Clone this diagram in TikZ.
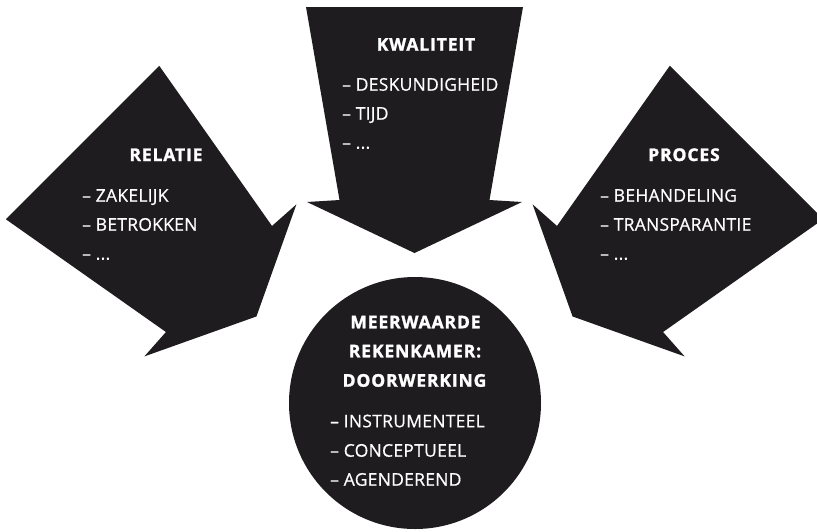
\documentclass[tikz,border=0pt]{standalone}
\usepackage{fontspec}
\newfontfamily\itemfont[LetterSpace=1.5,FakeBold=0.6]{Open Sans}
\newfontfamily\headfont[LetterSpace=5,BoldFeatures={FakeBold=1.5}]{Open Sans}
\definecolor{ink}{RGB}{30,28,31}
\begin{document}
\begin{tikzpicture}[x=1pt,y=-1pt,
  arrowshape/.style={fill=ink,draw=none},
  head/.style={text=white,inner sep=0pt,anchor=base,font=\headfont\bfseries\fontsize{17.5}{20}\selectfont},
  item/.style={text=white,inner sep=0pt,anchor=base west,font=\itemfont\fontsize{17.5}{20}\selectfont}]
\useasboundingbox (0,0) rectangle (817,531);
% arrow shape in local coordinates (back edge at y=0, pointing to +y)
\def\arrowpath{(-108.5,0) -- (108.5,0) -- (75,193) -- (107.5,195) -- (0,246) -- (-107.5,195) -- (-75,193) -- cycle}
\fill[arrowshape,shift={(414.5,7)}] \arrowpath;
\fill[arrowshape,shift={(82.5,142.5)},rotate=45] \arrowpath;
\fill[arrowshape,shift={(746.5,142.5)},rotate=-45] \arrowpath;
\fill[ink] (415,403) circle (126);
% top arrow
\node[head] (kwal) at (426,50.7) {KWALITEIT};
\node[item] (k1) at (342,90.7) {\textendash\ DESKUNDIGHEID};
\node[item] (k2) at (342,119.7) {\textendash\ TIJD};
\node[item] (k3) at (342,148.7) {\textendash\ ...};
% left arrow
\node[head] (rel) at (166,161) {RELATIE};
\node[item] (r1) at (82,201.7) {\textendash\ ZAKELIJK};
\node[item] (r2) at (82,230.7) {\textendash\ BETROKKEN};
\node[item] (r3) at (82,259.7) {\textendash\ ...};
% right arrow
\node[head] (proc) at (684,161) {PROCES};
\node[item] (p1) at (600,201.7) {\textendash\ BEHANDELING};
\node[item] (p2) at (600,230.7) {\textendash\ TRANSPARANTIE};
\node[item] (p3) at (600,259.7) {\textendash\ ...};
% circle
\node[head] (m1) at (415.5,328.3) {MEERWAARDE};
\node[head] (m2) at (415,357.3) {REKENKAMER:};
\node[head] (m3) at (414.5,386.7) {DOORWERKING};
\node[item] (c1) at (330,427.3) {\textendash\ INSTRUMENTEEL};
\node[item] (c2) at (330,456.7) {\textendash\ CONCEPTUEEL};
\node[item] (c3) at (330,485.7) {\textendash\ AGENDEREND};
\end{tikzpicture}
\end{document}
